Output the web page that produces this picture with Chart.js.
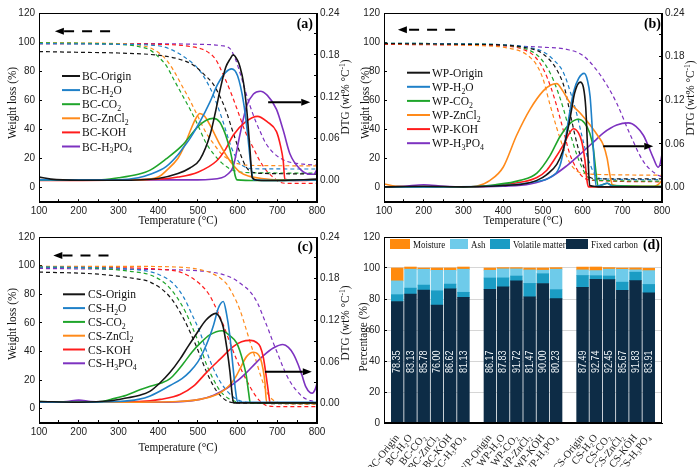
<!DOCTYPE html>
<html>
<head>
<meta charset="utf-8">
<script src="https://cdn.jsdelivr.net/npm/chart.js@4.4.1/dist/chart.umd.min.js"></script>
<style>
  body { margin: 0; background: #fff; }
  #wrap { position: relative; width: 700px; height: 467px; overflow: hidden; background: #fff; }
  canvas { position: absolute; }
</style>
</head>
<body>
<div id="wrap">
  <canvas id="cA" width="352" height="232" style="left:0;top:0"></canvas>
  <canvas id="cB" width="350" height="232" style="left:350px;top:0"></canvas>
  <canvas id="cC" width="352" height="243" style="left:0;top:224px"></canvas>
  <canvas id="cD" width="350" height="243" style="left:350px;top:224px"></canvas>
</div>
<script>
// ===== DADOS =====
const treatments = ['Origin', 'H_{2}O', 'CO_{2}', 'ZnCl_{2}', 'KOH', 'H_{3}PO_{4}'];
const lineColors = ['#151515', '#1f80c8', '#1fa52b', '#ff8a1a', '#ff1c1c', '#7d32c0'];

const tempTicks = [100, 150, 200, 250, 300, 350, 400, 450, 500, 550, 600, 650, 700, 750, 800];
const wlTicks   = [0, 20, 40, 60, 80, 100, 120];
const dtgTicks  = [0, 0.03, 0.06, 0.09, 0.12, 0.15, 0.18, 0.21, 0.24];

// (a) BC  -  [temperatura °C, valor]
const bcOriginDtg = [[100,.005],[130,.002],[200,.0005],[300,.0005],[400,.003],[450,.010],[480,.018],[505,.030],[531,.066],[545,.100],[556,.130],[570,.162],[581,.174],[589,.180],[600,.172],[606,.163],[615,.140],[623,.102],[631,.046],[637,.004],[650,.0005],[700,0],[800,.002]];
const bcH2oDtg    = [[100,.001],[300,.001],[350,.004],[380,.009],[420,.020],[450,.037],[463,.047],[480,.060],[505,.084],[530,.112],[550,.138],[570,.155],[585,.160],[600,.150],[615,.112],[625,.068],[633,.024],[640,.001],[700,0],[800,.001]];
const bcCo2Dtg    = [[100,.001],[250,.001],[300,.004],[350,.009],[380,.015],[420,.031],[460,.050],[500,.077],[520,.086],[539,.089],[555,.084],[564,.074],[573,.060],[581,.044],[588,.025],[594,.007],[599,.001],[650,0],[800,.001]];
const bcZnDtg     = [[100,.001],[350,.001],[400,.005],[422,.015],[450,.032],[465,.048],[480,.070],[495,.089],[505,.096],[517,.092],[531,.079],[556,.051],[581,.028],[606,.012],[631,.006],[660,.003],[700,.001],[800,.001]];
const bcKohDtg    = [[100,0],[400,.002],[450,.005],[500,.012],[547,.028],[570,.045],[589,.065],[620,.084],[650,.092],[675,.084],[698,.070],[708,.050],[715,.028],[719,.002],[750,0],[800,.001]];
const bcH3po4Dtg  = [[100,.001],[500,.001],[560,.004],[575,.009],[589,.020],[606,.066],[623,.107],[640,.124],[657,.128],[675,.122],[698,.102],[715,.072],[732,.038],[758,.016],[783,.009],[792,.009],[800,.016]];

const bcOriginTg = [[100,93.5],[200,93],[300,92.5],[400,91],[450,88.5],[487,84.5],[515,78],[539,71],[555,63],[572,52],[585,41],[596,32],[610,21],[622,14],[638,10.5],[700,9.6],[800,9.3]];
const bcH2oTg    = [[100,99],[300,98.5],[400,97.5],[440,94],[470,89],[500,82],[520,74],[540,63],[555,52],[565,44],[580,31],[590,24],[605,17],[620,14],[640,13],[800,12.8]];
const bcCo2Tg    = [[100,99.5],[250,99],[300,98.5],[350,97],[380,94.5],[400,90],[420,84],[440,74],[460,64],[480,54],[500,43],[520,31],[540,23],[560,17],[580,13],[600,11],[650,10.2],[800,10]];
const bcZnTg     = [[100,99.5],[300,99],[350,98],[380,96],[400,93],[420,88],[440,80],[460,70],[480,60],[500,49],[520,38],[540,30],[560,23],[580,19],[600,16.5],[650,15.2],[800,15]];
const bcKohTg    = [[100,99],[300,98.8],[400,98.5],[480,97],[520,94],[545,88],[565,77],[585,64],[600,53],[620,38],[640,27],[657,18],[675,11],[690,7],[705,4],[720,3],[800,3]];
const bcH3po4Tg  = [[100,99],[300,99],[500,98.5],[560,97.5],[581,95.5],[595,88],[606,79],[620,66],[631,56.5],[645,46],[657,38.5],[670,31],[690,24],[716,19],[740,17],[770,16],[800,15.5]];

// (b) WP
const wpOriginDtg = [[100,.001],[200,.002],[300,.001],[400,.003],[450,.005],[485,.010],[510,.018],[535,.032],[550,.050],[560,.072],[570,.100],[580,.130],[594,.145],[602,.138],[608,.110],[613,.050],[618,.003],[650,.001],[800,.001]];
const wpH2oDtg    = [[100,.001],[200,.001],[400,.003],[480,.008],[518,.014],[543,.030],[555,.060],[565,.095],[577,.131],[590,.150],[604,.157],[612,.148],[619,.125],[624,.085],[628,.045],[634,.002],[650,.004],[662,.006],[675,.002],[800,.001]];
const wpCo2Dtg    = [[100,.001],[300,.001],[380,.004],[443,.010],[485,.020],[518,.044],[543,.070],[568,.088],[589,.094],[605,.089],[618,.075],[627,.054],[634,.020],[639,.002],[650,.004],[662,.006],[675,.003],[800,.002]];
const wpZnDtg     = [[100,.005],[130,.002],[200,.001],[300,.001],[333,.002],[367,.010],[400,.028],[434,.072],[468,.108],[501,.133],[520,.141],[535,.143],[550,.133],[568,.117],[595,.102],[619,.086],[640,.070],[652,.059],[662,.040],[668,.020],[675,.004],[700,.002],[780,.002],[790,.004],[800,.010]];
const wpKohDtg    = [[100,.001],[300,.001],[400,.004],[450,.008],[485,.014],[510,.024],[527,.037],[552,.059],[567,.075],[577,.081],[590,.075],[598,.063],[606,.037],[611,.010],[615,.001],[800,.001]];
const wpH3po4Dtg  = [[100,.001],[150,.002],[200,.004],[250,.002],[300,.001],[400,.002],[468,.005],[518,.014],[560,.030],[602,.050],[630,.064],[652,.075],[686,.086],[715,.089],[735,.084],[753,.072],[765,.058],[778,.041],[790,.028],[795,.032],[800,.046]];

const wpOriginTg = [[100,99],[300,98.5],[400,98],[450,96.5],[500,92],[535,81],[555,68],[568,52],[580,37],[593,23],[605,13],[619,7],[640,6],[800,6]];
const wpH2oTg    = [[100,99.2],[300,98.8],[400,98.2],[450,97],[500,93.5],[530,87],[552,79],[570,65],[585,51],[598,36],[610,23],[622,14],[631,9],[650,6],[800,5.5]];
const wpCo2Tg    = [[100,99.2],[300,98.8],[400,98],[450,96],[490,90],[518,79],[535,68],[552,54],[568,38],[585,23],[600,13],[614,7],[640,5],[800,4.5]];
const wpZnTg     = [[100,99],[300,98],[350,97.5],[400,96.5],[450,93],[470,89],[485,84],[500,75],[518,57],[535,41],[552,27],[568,17],[585,11.5],[610,9.5],[650,9],[800,8.5]];
const wpKohTg    = [[100,98.5],[300,98],[400,97.5],[450,95],[480,90],[502,81],[520,69],[535,56],[552,39],[568,23],[585,13],[602,7],[630,5],[800,4]];
const wpH3po4Tg  = [[100,99],[300,98.5],[400,97.5],[500,96.5],[560,95],[600,91],[635,81],[660,71],[686,58],[719,37],[753,18],[787,9],[800,7.5]];

// (c) CS
const csOriginDtg = [[100,.003],[200,.002],[280,.004],[320,.008],[354,.012],[380,.018],[405,.030],[430,.045],[455,.064],[475,.082],[497,.101],[520,.120],[545,.130],[555,.124],[564,.110],[573,.080],[581,.045],[586,.015],[590,.001],[800,.001]];
const csH2oDtg    = [[100,.002],[200,.002],[300,.003],[350,.006],[380,.011],[430,.026],[460,.036],[480,.046],[500,.060],[514,.075],[530,.097],[539,.112],[552,.138],[564,.147],[572,.130],[580,.100],[589,.050],[595,.018],[600,.002],[800,.002]];
const csCo2Dtg    = [[100,.003],[200,.002],[260,.003],[280,.006],[320,.012],[354,.020],[380,.025],[410,.030],[430,.036],[450,.048],[464,.058],[485,.074],[506,.087],[530,.099],[561,.105],[580,.098],[598,.087],[614,.060],[622,.040],[628,.015],[632,.001],[800,.001]];
const csZnDtg     = [[100,.002],[300,.002],[450,.003],[505,.006],[548,.013],[565,.019],[581,.027],[595,.038],[606,.050],[623,.068],[640,.074],[650,.072],[657,.066],[664,.050],[669,.030],[673,.002],[800,.001]];
const csKohDtg    = [[100,.002],[300,.002],[380,.004],[405,.006],[455,.013],[489,.025],[522,.045],[556,.064],[589,.082],[610,.089],[633,.091],[648,.088],[657,.082],[665,.066],[672,.040],[678,.015],[682,.001],[800,.001]];
const csH3po4Dtg  = [[100,.002],[170,.003],[200,.005],[230,.003],[300,.002],[422,.002],[505,.006],[540,.012],[573,.022],[600,.033],[623,.045],[645,.058],[665,.069],[690,.080],[714,.085],[728,.081],[741,.071],[752,.057],[762,.041],[772,.024],[782,.016],[788,.015],[795,.020],[800,.029]];

const csOriginTg = [[100,95.5],[250,94],[340,91],[380,88.5],[430,78],[464,63],[497,43],[523,25],[548,12],[573,5.5],[600,4],[800,3.5]];
const csH2oTg    = [[100,99],[250,98.5],[350,97],[400,94],[440,87],[464,78],[485,66],[506,53],[522,40],[539,28],[556,19],[573,12.5],[590,8],[606,5.5],[630,4.3],[800,4]];
const csCo2Tg    = [[100,99],[250,98],[330,96],[380,93.5],[420,87],[447,78],[470,67],[489,55],[505,44],[523,30],[540,20],[556,12.5],[575,7.5],[595,5],[620,4.2],[800,4]];
const csZnTg     = [[100,99.5],[300,99.5],[450,99],[500,97.5],[540,94],[573,87],[590,79],[606,69],[620,57],[631,47],[645,35],[657,24],[670,14],[682,8],[700,4.5],[720,3.5],[800,3.2]];
const csKohTg    = [[100,99],[300,98.5],[400,97.5],[460,95],[506,87],[530,79],[548,69],[565,58],[581,46],[598,34],[615,24],[632,15],[648,8],[662,4],[675,2],[700,1.5],[800,1.5]];
const csH3po4Tg  = [[100,98],[300,97.5],[450,97],[520,96],[560,94],[589,91],[610,87],[631,82],[650,74],[665,64],[678,55],[690,46],[703,37],[716,28],[732,19],[749,12.5],[765,8],[783,5.6],[800,5]];

// (d) composição
const materials = ['BC', 'WP', 'CS'];
const barTreatments = ['Origin', 'H₂O', 'CO₂', 'ZnCl₂', 'KOH', 'H₃PO₄'];
const fixedCarbon    = [78.35, 83.13, 85.78, 76.00, 86.62, 81.13, 86.17, 87.83, 91.72, 81.47, 90.00, 80.23, 87.49, 92.74, 92.45, 85.67, 91.83, 83.91];
const volatileMatter = [4.45, 3.9, 3.2, 9.3, 3.0, 3.2, 7.4, 5.8, 3.1, 8.6, 6.3, 5.8, 7.7, 2.3, 2.4, 5.2, 5.5, 5.5];
const ashContent     = [8.9, 12.2, 10.2, 13.2, 8.9, 14.9, 5.0, 5.8, 4.6, 8.7, 2.3, 13.2, 3.6, 3.3, 4.4, 8.3, 1.5, 8.9];
const moisture       = [8.3, 1.4, 0.8, 1.5, 1.5, 1.4, 1.4, 0.8, 0.8, 1.2, 1.4, 1.0, 1.8, 2.3, 1.0, 0.8, 1.2, 1.5];
const pctTicks = [0, 20, 40, 60, 80, 100, 120];


// ===== ESTILO =====
const SERIF  = '"Liberation Serif", "Times New Roman", serif';
const NARROW = '"Liberation Sans Narrow", "Arial Narrow", "Liberation Sans", Arial, sans-serif';
const SANS   = '"Liberation Sans", Arial, sans-serif';

Chart.defaults.font.family = NARROW;
Chart.defaults.color = '#222';

const pts = a => a.map(p => ({ x: p[0], y: p[1] }));


// ===== TEXTO COM SUB/SOBRESCRITO =====
function richText(ctx, str, x, y, size, family, align, weight) {
  const parts = [];
  const re = /([_^])\{([^}]*)\}/g;
  let last = 0, m;
  while ((m = re.exec(str))) {
    if (m.index > last) parts.push([str.slice(last, m.index), '']);
    parts.push([m[2], m[1]]);
    last = re.lastIndex;
  }
  if (last < str.length) parts.push([str.slice(last), '']);

  const fontOf = k => `${weight || 'normal'} ${k ? size * 0.68 : size}px ${family}`;
  let w = 0;
  parts.forEach(p => { ctx.font = fontOf(p[1]); p.push(ctx.measureText(p[0]).width); w += p[2]; });

  let cx = align === 'center' ? x - w / 2 : align === 'right' ? x - w : x;
  ctx.textAlign = 'left';
  ctx.textBaseline = 'alphabetic';
  parts.forEach(p => {
    ctx.font = fontOf(p[1]);
    const dy = p[1] === '_' ? size * 0.24 : p[1] === '^' ? -size * 0.38 : 0;
    ctx.fillText(p[0], cx, y + dy);
    cx += p[2];
  });
}

function drawArrow(ctx, x1, y1, x2, y2, dashed) {
  const dir = Math.sign(x2 - x1);
  const head = 9;
  ctx.save();
  ctx.strokeStyle = '#000';
  ctx.fillStyle = '#000';
  ctx.lineWidth = 2;
  if (dashed) ctx.setLineDash([10, 8]);
  ctx.beginPath();
  ctx.moveTo(x1, y1);
  ctx.lineTo(x2 - dir * head, y2);
  ctx.stroke();
  ctx.setLineDash([]);
  ctx.beginPath();
  ctx.moveTo(x2, y2);
  ctx.lineTo(x2 - dir * head, y2 - 3.5);
  ctx.lineTo(x2 - dir * head, y2 + 3.5);
  ctx.closePath();
  ctx.fill();
  ctx.restore();
}


// ===== PLUGIN DE DECORAÇÃO =====
function makeDecor(cfg) {
  return {
    id: 'decor',
    afterDraw(chart) {
      const ctx = chart.ctx;
      const ox = chart.canvas.offsetLeft, oy = chart.canvas.offsetTop;
      const ca = chart.chartArea;

      ctx.save();
      // moldura
      ctx.strokeStyle = '#000';
      ctx.lineWidth = 1;
      ctx.strokeRect(Math.round(ca.left) + 0.5, Math.round(ca.top) + 0.5,
                     Math.round(ca.right - ca.left) - 1, Math.round(ca.bottom - ca.top) - 1);

      // títulos dos eixos
      ctx.fillStyle = '#111';
      (cfg.titles || []).forEach(t => {
        ctx.save();
        ctx.translate(t.x - ox, t.y - oy);
        ctx.rotate(t.rot || 0);
        ctx.scale(t.sx || 1, 1);
        richText(ctx, t.text, 0, t.size * 0.35, t.size, SERIF, 'center');
        ctx.restore();
      });

      // legenda de linhas
      const lg = cfg.legend;
      if (lg) {
        lg.names.forEach((n, i) => {
          const y = lg.y0 + i * lg.dy - oy;
          ctx.strokeStyle = lineColors[i];
          ctx.lineWidth = 2;
          ctx.beginPath();
          ctx.moveTo(lg.x - ox, y);
          ctx.lineTo(lg.x + lg.len - ox, y);
          ctx.stroke();
          ctx.fillStyle = '#111';
          richText(ctx, n, lg.tx - ox, y + 4, 11.5, SERIF, 'left');
        });
      }

      // legenda de barras
      const bl = cfg.boxLegend;
      if (bl) {
        bl.items.forEach(it => {
          ctx.fillStyle = it.color;
          ctx.fillRect(it.bx - ox, bl.y - 5 - oy, it.bw, 10);
          ctx.fillStyle = '#111';
          ctx.save();
          ctx.translate(it.bx + it.bw + 3 - ox, bl.y + 4 - oy);
          ctx.scale(0.85, 1);
          richText(ctx, it.text, 0, 0, 10.5, SERIF, 'left');
          ctx.restore();
        });
      }

      // setas
      (cfg.arrows || []).forEach(a => {
        const sx = chart.scales.x, sy = chart.scales.y;
        drawArrow(ctx, sx.getPixelForValue(a.from), sy.getPixelForValue(a.w),
                       sx.getPixelForValue(a.to), sy.getPixelForValue(a.w), a.dashed);
      });

      // letra do painel
      if (cfg.letter) {
        ctx.fillStyle = '#000';
        richText(ctx, cfg.letter.text, cfg.letter.x - ox, cfg.letter.y - oy, 14, SERIF, 'right', 'bold');
      }
      ctx.restore();
    }
  };
}


// ===== GRÁFICO TG/DTG =====
function buildLineChart(id, prefix, tgSets, dtgSets, lay, decor) {
  const datasets = [];
  dtgSets.forEach((d, i) => datasets.push({
    label: prefix + '-' + treatments[i] + ' DTG',
    data: pts(d), yAxisID: 'y1',
    borderColor: lineColors[i], borderWidth: 1.6,
    pointRadius: 0, cubicInterpolationMode: 'monotone', fill: false
  }));
  tgSets.forEach((d, i) => datasets.push({
    label: prefix + '-' + treatments[i] + ' TG',
    data: pts(d), yAxisID: 'y',
    borderColor: lineColors[i], borderWidth: 1.2, borderDash: [4, 3],
    pointRadius: 0, cubicInterpolationMode: 'monotone', fill: false
  }));

  const tickFont = { size: 10, family: NARROW };
  const gridIn = { drawOnChartArea: false, tickLength: -3, tickColor: '#000', color: '#000' };

  return new Chart(document.getElementById(id), {
    type: 'line',
    data: { datasets },
    options: {
      responsive: false,
      devicePixelRatio: 1,
      animation: false,
      events: [],
      layout: { padding: { top: lay.top, left: 0, right: 0, bottom: 0 } },
      plugins: { legend: { display: false }, tooltip: { enabled: false } },
      scales: {
        x: {
          type: 'linear', min: 100, max: 800,
          afterBuildTicks: ax => { ax.ticks = tempTicks.map(v => ({ value: v })); },
          afterFit: s => { s.height = lay.xH; },
          ticks: { autoSkip: false, maxRotation: 0, padding: 6, font: tickFont,
                   callback: v => (v % 100 === 0 ? String(v) : '') },
          grid: gridIn,
          border: { color: '#000', width: 1 }
        },
        y: {
          position: 'left', min: -10, max: 120,
          afterBuildTicks: ax => { ax.ticks = wlTicks.map(v => ({ value: v })); },
          afterFit: s => { s.width = lay.left; },
          ticks: { padding: 7, font: tickFont, callback: v => String(v) },
          grid: gridIn,
          border: { color: '#000', width: 1 }
        },
        y1: {
          position: 'right', min: lay.dtgMin, max: 0.24,
          afterBuildTicks: ax => { ax.ticks = dtgTicks.map(v => ({ value: v })); },
          afterFit: s => { s.width = lay.right; },
          ticks: { padding: 6, font: tickFont, callback: (v, i) => (i % 2 === 0 ? v.toFixed(2) : '') },
          grid: gridIn,
          border: { color: '#000', width: 1 }
        }
      }
    },
    plugins: [makeDecor(decor)]
  });
}

const legendNames = p => treatments.map(t => p + '-' + t);
const ROT = -Math.PI / 2;

// (a)
buildLineChart('cA', 'BC',
  [bcOriginTg, bcH2oTg, bcCo2Tg, bcZnTg, bcKohTg, bcH3po4Tg],
  [bcOriginDtg, bcH2oDtg, bcCo2Dtg, bcZnDtg, bcKohDtg, bcH3po4Dtg],
  { top: 8.3, left: 39, right: 35, xH: 29.8, dtgMin: -0.031 },
  {
    titles: [
      { text: 'Temperature (°C)', x: 178, y: 220, size: 12.5, sx: 0.9 },
      { text: 'Weight loss (%)', x: 12, y: 103, size: 12.5, sx: 0.9, rot: ROT },
      { text: 'DTG (wt% °C^{-1})', x: 345, y: 97, size: 12.5, sx: 0.9, rot: ROT }
    ],
    legend: { names: legendNames('BC'), x: 62, len: 18, tx: 82, y0: 76, dy: 14.1 },
    arrows: [
      { from: 279, to: 140, w: 107.4, dashed: true },
      { from: 677, to: 783, w: 58.6 }
    ],
    letter: { text: '(a)', x: 313, y: 28 }
  });

// (b)
buildLineChart('cB', 'WP',
  [wpOriginTg, wpH2oTg, wpCo2Tg, wpZnTg, wpKohTg, wpH3po4Tg],
  [wpOriginDtg, wpH2oDtg, wpCo2Dtg, wpZnDtg, wpKohDtg, wpH3po4Dtg],
  { top: 8.3, left: 34, right: 38, xH: 29.8, dtgMin: -0.02 },
  {
    titles: [
      { text: 'Temperature (°C)', x: 523, y: 220, size: 12.5, sx: 0.9 },
      { text: 'Weight loss (%)', x: 365, y: 103, size: 12.5, sx: 0.9, rot: ROT },
      { text: 'DTG (wt% °C^{-1})', x: 690, y: 98, size: 12.5, sx: 0.9, rot: ROT }
    ],
    legend: { names: legendNames('WP'), x: 407, len: 23, tx: 432, y0: 72.7, dy: 14.1 },
    arrows: [
      { from: 279, to: 135, w: 108.5, dashed: true },
      { from: 652, to: 778, w: 28.4 }
    ],
    letter: { text: '(b)', x: 661, y: 28 }
  });

// (c)
buildLineChart('cC', 'CS',
  [csOriginTg, csH2oTg, csCo2Tg, csZnTg, csKohTg, csH3po4Tg],
  [csOriginDtg, csH2oDtg, csCo2Dtg, csZnDtg, csKohDtg, csH3po4Dtg],
  { top: 6.4, left: 39, right: 35, xH: 44, dtgMin: -0.028 },
  {
    titles: [
      { text: 'Temperature (°C)', x: 178, y: 447, size: 12.5, sx: 0.9 },
      { text: 'Weight loss (%)', x: 12, y: 324, size: 12.5, sx: 0.9, rot: ROT },
      { text: 'DTG (wt% °C^{-1})', x: 345, y: 323, size: 12.5, sx: 0.9, rot: ROT }
    ],
    legend: { names: legendNames('CS'), x: 63, len: 22, tx: 88, y0: 294.3, dy: 13.8 },
    arrows: [
      { from: 275, to: 136, w: 107, dashed: true },
      { from: 669, to: 787, w: 25.9 }
    ],
    letter: { text: '(c)', x: 313, y: 251 }
  });


// ===== GRÁFICO COMPOSIÇÃO =====
// 22 posições: vazio nas pontas e entre os grupos
const barLabels = [''];
const slotIdx = [];
materials.forEach(m => {
  barTreatments.forEach(t => { slotIdx.push(barLabels.length); barLabels.push(m + '-' + t); });
  barLabels.push('');
});

const spread = vals => {
  const out = barLabels.map(() => null);
  vals.forEach((v, i) => { out[slotIdx[i]] = v; });
  return out;
};

const barColors = { fixed: '#0d2c46', volatile: '#1b9cc4', ash: '#6ecbea', moisture: '#ff8a0d' };

const barValueLabels = {
  id: 'barValueLabels',
  afterDatasetsDraw(chart) {
    const ctx = chart.ctx;
    const meta = chart.getDatasetMeta(0);
    const yPix = chart.scales.y.getPixelForValue(39.5);
    ctx.save();
    ctx.fillStyle = '#eef3f6';
    ctx.font = `10px ${SANS}`;
    ctx.textAlign = 'center';
    ctx.textBaseline = 'middle';
    slotIdx.forEach((s, i) => {
      const bar = meta.data[s];
      ctx.save();
      ctx.translate(bar.x, yPix);
      ctx.rotate(-Math.PI / 2);
      ctx.scale(0.9, 1);
      ctx.fillText(fixedCarbon[i].toFixed(2), 0, 0.5);
      ctx.restore();
    });
    ctx.restore();
  }
};

const barSet = (label, vals, color) => ({
  label, data: spread(vals), backgroundColor: color,
  borderWidth: 0, barThickness: 11.8, stack: 's'
});

new Chart(document.getElementById('cD'), {
  type: 'bar',
  data: {
    labels: barLabels,
    datasets: [
      barSet('Fixed carbon', fixedCarbon, barColors.fixed),
      barSet('Volatile matter', volatileMatter, barColors.volatile),
      barSet('Ash', ashContent, barColors.ash),
      barSet('Moisture', moisture, barColors.moisture)
    ]
  },
  options: {
    responsive: false,
    devicePixelRatio: 1,
    animation: false,
    events: [],
    layout: { padding: { top: 6, left: 0, right: 38, bottom: 0 } },
    plugins: { legend: { display: false }, tooltip: { enabled: false } },
    scales: {
      x: {
        type: 'category', offset: false, stacked: true,
        afterFit: s => { s.height = 44; },
        ticks: { autoSkip: false, minRotation: 52, maxRotation: 52, padding: 1,
                 font: { size: 10.5, family: SERIF }, color: '#222' },
        grid: { display: false },
        border: { color: '#000', width: 1 }
      },
      y: {
        stacked: true, min: 0, max: 120,
        afterBuildTicks: ax => { ax.ticks = pctTicks.map(v => ({ value: v })); },
        afterFit: s => { s.width = 34; },
        ticks: { padding: 7, font: { size: 10, family: NARROW }, callback: v => String(v) },
        grid: { color: '#d6d6d6', tickLength: -3, tickColor: '#000' },
        border: { color: '#000', width: 1 }
      }
    }
  },
  plugins: [barValueLabels, makeDecor({
    titles: [{ text: 'Percentage (%)', x: 363, y: 337, size: 12.5, sx: 0.9, rot: ROT }],
    boxLegend: {
      y: 244,
      items: [
        { text: 'Moisture', color: barColors.moisture, bx: 390, bw: 20 },
        { text: 'Ash', color: barColors.ash, bx: 450, bw: 18 },
        { text: 'Volatile matter', color: barColors.volatile, bx: 490, bw: 20 },
        { text: 'Fixed carbon', color: barColors.fixed, bx: 566, bw: 22 }
      ]
    },
    letter: { text: '(d)', x: 660, y: 249 }
  })]
});
</script>
</body>
</html>
